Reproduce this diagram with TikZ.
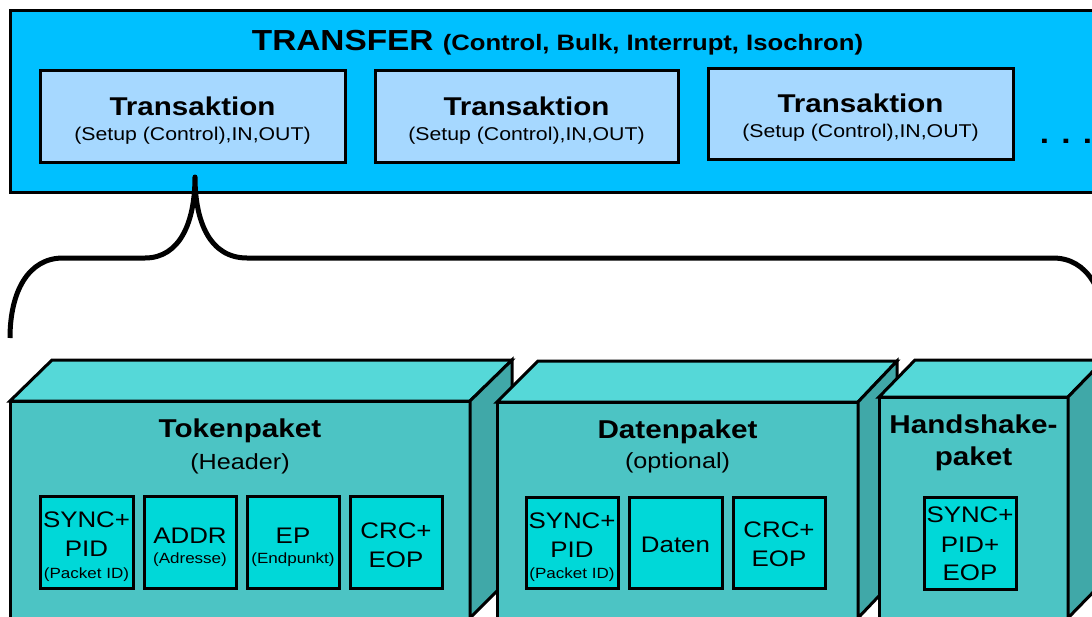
\documentclass[tikz,border=0pt]{standalone}
\usepackage{fontspec}
\setmainfont{Liberation Sans}[FakeStretch=1.15]

\definecolor{transferblue}{RGB}{0,192,255}
\definecolor{transblue}{RGB}{166,216,255}
\definecolor{pktfront}{RGB}{76,196,196}
\definecolor{pkttop}{RGB}{85,216,216}
\definecolor{pktside}{RGB}{64,168,168}
\definecolor{fieldcyan}{RGB}{0,216,216}

\begin{document}
\begin{tikzpicture}[x=1pt,y=-1pt,
  outline/.style={draw=black, line width=3pt, line join=miter},
  txt/.style={anchor=base, inner sep=0pt},
  bigtitle/.style={txt, font=\bfseries\fontsize{29}{34}\selectfont},
  transtitle/.style={txt, font=\bfseries\fontsize{25.7}{30}\selectfont},
  transsub/.style={txt, font=\fontsize{18.5}{22}\selectfont},
  pkttitle/.style={txt, font=\bfseries\fontsize{25.8}{30}\selectfont},
  pktsub/.style={txt, font=\fontsize{21.9}{26}\selectfont},
  fieldtxt/.style={txt, font=\fontsize{22.5}{27}\selectfont},
  fieldsmall/.style={txt, font=\fontsize{14.8}{18}\selectfont},
  transbox/.style={outline, fill=transblue},
  fieldbox/.style={outline, fill=fieldcyan},
  brace/.style={draw=black, line width=5pt, line join=round}
]
\useasboundingbox (0,0) rectangle (1092,616);
\fill[white] (0,0) rectangle (1092,616);

% ---- transfer frame ----
\filldraw[outline, fill=transferblue] (10,10) rectangle (1104,192);
\node[txt, font=\bfseries] (transfer) at (557.5,50)
  {{\fontsize{29}{34}\selectfont TRANSFER }{\fontsize{22.3}{26}\selectfont (Control, Bulk, Interrupt, Isochron)}};

% ---- transactions ----
\filldraw[transbox] (40,70) rectangle (345,162);
\node[transtitle] (ta1) at (192.5,115) {Transaktion};
\node[transsub]   (ts1) at (192.5,140) {(Setup (Control),IN,OUT)};

\filldraw[transbox] (375,70) rectangle (678,162);
\node[transtitle] (ta2) at (526.5,115) {Transaktion};
\node[transsub]   (ts2) at (526.5,140) {(Setup (Control),IN,OUT)};

\filldraw[transbox] (708,68) rectangle (1013,159);
\node[transtitle] (ta3) at (860.5,112) {Transaktion};
\node[transsub]   (ts3) at (860.5,137) {(Setup (Control),IN,OUT)};

\node[bigtitle] (more) at (1066,143) {. . .};

% ---- brace from the first transaction down to the packets ----
\coordinate (tip) at (195,177);
\coordinate (lend) at (10,338);
\coordinate (rend) at (1106,338);
\draw[brace] (lend) .. controls (10,292) and (28,258) .. (63,258)
  -- (145,258) .. controls (180,258) and (195,222) .. (tip)
  .. controls (195,222) and (210,258) .. (247,258)
  -- (1053,258) .. controls (1088,258) and (1106,292) .. (rend);

% ---- token packet ----
\filldraw[outline, fill=pktfront] (10,401) rectangle (470,618);
\filldraw[outline, fill=pkttop] (10,401) -- (52,360) -- (512,360) -- (470,401) -- cycle;
\filldraw[outline, fill=pktside] (470,401) -- (512,360) -- (512,576) -- (470,618) -- cycle;
\node[pkttitle] (tok) at (240,437) {Tokenpaket};
\node[pktsub]   (toks) at (240,469) {(Header)};

\filldraw[fieldbox] (40,496) rectangle (133,588);
\node[fieldtxt]   (f1a) at (86.5,527) {SYNC+};
\node[fieldtxt]   (f1b) at (86.5,556) {PID};
\node[fieldsmall] (f1c) at (86.5,578) {(Packet ID)};

\filldraw[fieldbox] (144,496) rectangle (236,588);
\node[fieldtxt]   (f2a) at (190,543) {ADDR};
\node[fieldsmall] (f2b) at (190,563) {(Adresse)};

\filldraw[fieldbox] (247,496) rectangle (339,588);
\node[fieldtxt]   (f3a) at (293,543) {EP};
\node[fieldsmall] (f3b) at (293,563) {(Endpunkt)};

\filldraw[fieldbox] (350,496) rectangle (442,588);
\node[fieldtxt]   (f4a) at (396,538) {CRC+};
\node[fieldtxt]   (f4b) at (396,567) {EOP};

% ---- data packet ----
\filldraw[outline, fill=pktfront] (497,402) rectangle (858,618);
\filldraw[outline, fill=pkttop] (497,402) -- (538,361) -- (897,361) -- (858,402) -- cycle;
\filldraw[outline, fill=pktside] (858,402) -- (897,361) -- (897,577) -- (858,618) -- cycle;
\node[pkttitle] (dat) at (677.5,438) {Datenpaket};
\node[pktsub]   (dats) at (677.5,468) {(optional)};

\filldraw[fieldbox] (526,497) rectangle (618,588);
\node[fieldtxt]   (d1a) at (572,528) {SYNC+};
\node[fieldtxt]   (d1b) at (572,557) {PID};
\node[fieldsmall] (d1c) at (572,578) {(Packet ID)};

\filldraw[fieldbox] (629,497) rectangle (722,588);
\node[fieldtxt]   (d2a) at (675.5,552) {Daten};

\filldraw[fieldbox] (733,497) rectangle (825,588);
\node[fieldtxt]   (d3a) at (779,537) {CRC+};
\node[fieldtxt]   (d3b) at (779,566) {EOP};

% ---- handshake packet ----
\filldraw[outline, fill=pktfront] (879,397) rectangle (1068,618);
\filldraw[outline, fill=pkttop] (879,397) -- (915,360) -- (1104,360) -- (1068,397) -- cycle;
\filldraw[outline, fill=pktside] (1068,397) -- (1104,360) -- (1104,581) -- (1068,618) -- cycle;
\node[pkttitle] (hs) at (973.5,433) {Handshake-};
\node[pkttitle] (hsb) at (973.5,465) {paket};

\filldraw[fieldbox] (924,497) rectangle (1016,589);
\node[fieldtxt] (h1a) at (970,522) {SYNC+};
\node[fieldtxt] (h1b) at (970,552) {PID+};
\node[fieldtxt] (h1c) at (970,580) {EOP};
\end{tikzpicture}
\end{document}
